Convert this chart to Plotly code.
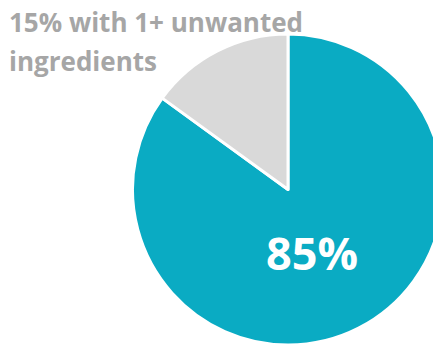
import plotly.graph_objects as go

labels = ["No unwanted ingredients", "1+ unwanted ingredients"]
values = [85, 15]
colors = ["#0aabc3", "#d9d9d9"]
big_label = "85%"
small_label_lines = ["15% with 1+ unwanted", "ingredients"]

W, H = 445, 345

fig = go.Figure(go.Pie(
    labels=labels, values=values, sort=False, direction="clockwise", rotation=0,
    marker=dict(colors=colors, line=dict(color="white", width=3)),
    textinfo="none", hoverinfo="label+percent", showlegend=False,
    domain=dict(x=[131 / W, 1.0], y=[0.0, 311 / H]),
))

ann = [
    dict(text=f"<b>{small_label_lines[0]}</b>", x=7 / W, y=1 - 22.5 / H, xanchor="left", yanchor="middle",
         font=dict(family="Open Sans", size=26, color="#a6a6a6")),
    dict(text=f"<b>{small_label_lines[1]}</b>", x=7 / W, y=1 - 60.5 / H, xanchor="left", yanchor="middle",
         font=dict(family="Open Sans", size=26, color="#a6a6a6")),
    dict(text=f"<b>{big_label}</b>", x=312 / W, y=1 - 252 / H, xanchor="center", yanchor="middle",
         font=dict(family="Open Sans", size=45, color="white")),
]
for a in ann:
    a.update(xref="paper", yref="paper", showarrow=False)

fig.update_layout(
    width=W, height=H, margin=dict(l=0, r=0, t=0, b=0),
    paper_bgcolor="white", plot_bgcolor="white", annotations=ann,
)

fig.write_html("out.html", post_script="document.documentElement.style.overflow='hidden';document.body.style.overflow='hidden';document.body.style.margin='0';")
